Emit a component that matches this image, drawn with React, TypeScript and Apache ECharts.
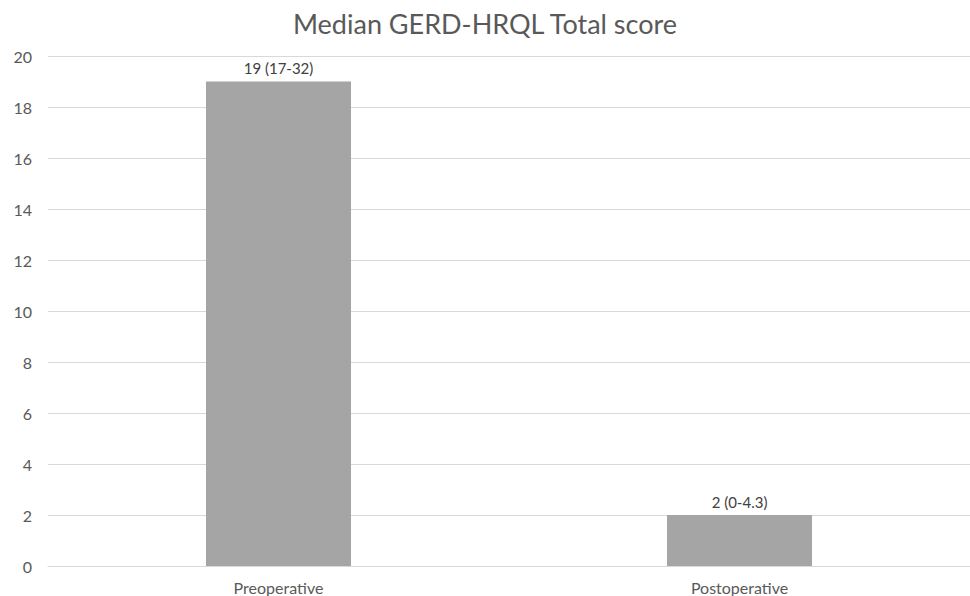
import React, { useEffect, useRef } from "react";
import * as echarts from "echarts";

const categories = ["Preoperative", "Postoperative"];
const medians = [19, 2];
const ranges = ["17-32", "0-4.3"];
const yTicks = { min: 0, max: 20, interval: 2 };

const FONT = "Lato, 'Open Sans', sans-serif";

export default function App() {
  const ref = useRef<HTMLDivElement>(null);

  useEffect(() => {
    if (!ref.current) return;
    const chart = echarts.init(ref.current, undefined, { renderer: "svg" });
    chart.setOption({
      animation: false,
      backgroundColor: "#ffffff",
      title: {
        text: "Median GERD-HRQL Total score",
        left: "center",
        top: 5,
        textStyle: {
          fontFamily: FONT,
          fontSize: 27,
          fontWeight: "normal",
          color: "#595959",
        },
      },
      grid: { left: 48, right: 0, top: 56, bottom: 30, containLabel: false },
      xAxis: {
        type: "category",
        data: categories,
        axisLine: { show: true, lineStyle: { color: "#d9d9d9", width: 1 } },
        axisTick: { show: false },
        axisLabel: {
          fontFamily: FONT,
          fontSize: 16,
          color: "#595959",
          margin: 13,
        },
      },
      yAxis: {
        type: "value",
        min: yTicks.min,
        max: yTicks.max,
        interval: yTicks.interval,
        axisLine: { show: false },
        axisTick: { show: false },
        axisLabel: {
          fontFamily: FONT,
          fontSize: 16,
          color: "#595959",
          margin: 16,
        },
        splitLine: { lineStyle: { color: "#d9d9d9", width: 1 } },
      },
      series: [
        {
          type: "bar",
          data: medians,
          barWidth: 145,
          itemStyle: { color: "#a5a5a5" },
          label: {
            show: true,
            position: "top",
            distance: 6,
            fontFamily: FONT,
            fontSize: 15,
            color: "#404040",
            formatter: (p: any) => `${medians[p.dataIndex]} (${ranges[p.dataIndex]})`,
          },
        },
      ],
    });
    return () => chart.dispose();
  }, []);

  return (
    <div
      ref={ref}
      style={{ position: "fixed", left: 0, top: 0, width: 970, height: 596 }}
    />
  );
}
